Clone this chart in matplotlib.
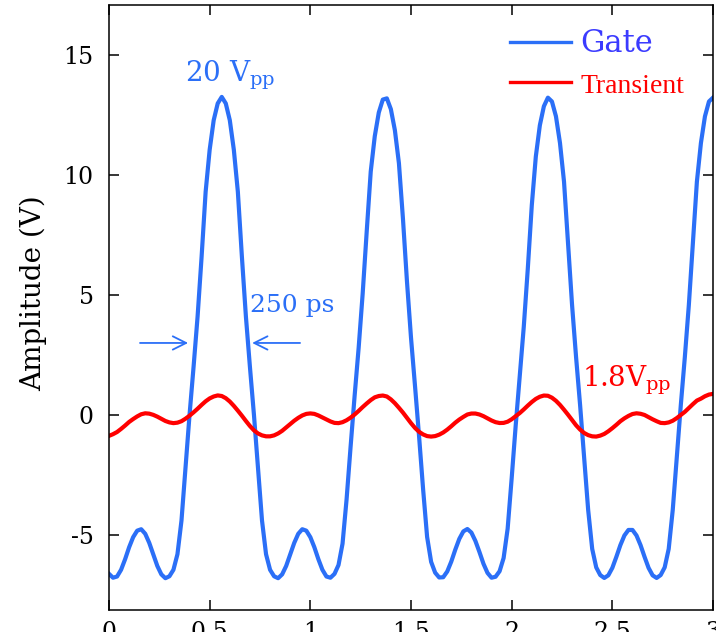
import matplotlib
matplotlib.use('Agg')
import matplotlib.pyplot as plt
from matplotlib.ticker import FixedLocator, FixedFormatter

# ---- data ----
time_ns = [
    0.00, 0.02, 0.04, 0.06, 0.08, 0.10, 0.12, 0.14, 0.16, 0.18,
    0.20, 0.22, 0.24, 0.26, 0.28, 0.30, 0.32, 0.34, 0.36, 0.38,
    0.40, 0.42, 0.44, 0.46, 0.48, 0.50, 0.52, 0.54, 0.56, 0.58,
    0.60, 0.62, 0.64, 0.66, 0.68, 0.70, 0.72, 0.74, 0.76, 0.78,
    0.80, 0.82, 0.84, 0.86, 0.88, 0.90, 0.92, 0.94, 0.96, 0.98,
    1.00, 1.02, 1.04, 1.06, 1.08, 1.10, 1.12, 1.14, 1.16, 1.18,
    1.20, 1.22, 1.24, 1.26, 1.28, 1.30, 1.32, 1.34, 1.36, 1.38,
    1.40, 1.42, 1.44, 1.46, 1.48, 1.50, 1.52, 1.54, 1.56, 1.58,
    1.60, 1.62, 1.64, 1.66, 1.68, 1.70, 1.72, 1.74, 1.76, 1.78,
    1.80, 1.82, 1.84, 1.86, 1.88, 1.90, 1.92, 1.94, 1.96, 1.98,
    2.00, 2.02, 2.04, 2.06, 2.08, 2.10, 2.12, 2.14, 2.16, 2.18,
    2.20, 2.22, 2.24, 2.26, 2.28, 2.30, 2.32, 2.34, 2.36, 2.38,
    2.40, 2.42, 2.44, 2.46, 2.48, 2.50, 2.52, 2.54, 2.56, 2.58,
    2.60, 2.62, 2.64, 2.66, 2.68, 2.70, 2.72, 2.74, 2.76, 2.78,
    2.80, 2.82, 2.84, 2.86, 2.88, 2.90, 2.92, 2.94, 2.96, 2.98,
    3.00,
]

gate_v = [
    -6.62, -6.78, -6.73, -6.45, -6.01, -5.51, -5.09, -4.82, -4.76, -4.95,
    -5.33, -5.81, -6.29, -6.64, -6.80, -6.72, -6.45, -5.80, -4.40, -2.20,
    0.00, 2.00, 4.10, 6.60, 9.30, 11.05, 12.28, 12.98, 13.25, 12.98,
    12.28, 11.05, 9.30, 6.60, 4.10, 2.00, 0.00, -2.20, -4.40, -5.80,
    -6.45, -6.72, -6.80, -6.64, -6.29, -5.81, -5.33, -4.95, -4.76, -4.82,
    -5.09, -5.51, -6.01, -6.45, -6.73, -6.78, -6.62, -6.25, -5.36, -3.52,
    -1.32, 0.80, 2.80, 5.06, 7.64, 10.14, 11.61, 12.60, 13.14, 13.19,
    12.74, 11.86, 10.49, 8.18, 5.56, 3.22, 1.20, -0.88, -3.08, -5.08,
    -6.12, -6.57, -6.77, -6.76, -6.52, -6.11, -5.61, -5.16, -4.85, -4.75,
    -4.90, -5.25, -5.71, -6.20, -6.58, -6.78, -6.74, -6.51, -5.96, -4.74,
    -2.64, -0.44, 1.60, 3.66, 6.08, 8.74, 10.77, 12.07, 12.86, 13.22,
    13.06, 12.44, 11.33, 9.72, 7.12, 4.58, 2.40, 0.40, -1.76, -3.96,
    -5.58, -6.35, -6.67, -6.79, -6.68, -6.37, -5.91, -5.42, -5.02, -4.79,
    -4.79, -5.02, -5.42, -5.91, -6.37, -6.68, -6.79, -6.67, -6.35, -5.58,
    -3.96, -1.76, 0.40, 2.40, 4.58, 7.12, 9.72, 11.33, 12.44, 13.06,
    13.22,
]

transient_v = [
    -0.87, -0.80, -0.71, -0.58, -0.44, -0.29, -0.17, -0.06, 0.03, 0.07,
    0.055, 0.005, -0.07, -0.16, -0.25, -0.31, -0.34, -0.32, -0.26, -0.155,
    -0.03, 0.11, 0.26, 0.42, 0.57, 0.69, 0.77, 0.815, 0.79, 0.70,
    0.56, 0.38, 0.18, -0.03, -0.25, -0.46, -0.64, -0.77, -0.85, -0.89,
    -0.89, -0.85, -0.77, -0.66, -0.52, -0.38, -0.24, -0.12, -0.02, 0.045,
    0.065, 0.045, -0.02, -0.105, -0.19, -0.27, -0.33, -0.34, -0.30, -0.22,
    -0.11, 0.02, 0.17, 0.33, 0.48, 0.62, 0.735, 0.79, 0.81, 0.77,
    0.65, 0.49, 0.30, 0.10, -0.12, -0.34, -0.54, -0.70, -0.81, -0.88,
    -0.90, -0.88, -0.82, -0.73, -0.61, -0.47, -0.32, -0.19, -0.08, 0.02,
    0.06, 0.06, 0.02, -0.05, -0.14, -0.23, -0.30, -0.335, -0.33, -0.28,
    -0.18, -0.05, 0.08, 0.23, 0.39, 0.54, 0.67, 0.76, 0.81, 0.80,
    0.72, 0.59, 0.42, 0.22, 0.01, -0.21, -0.43, -0.61, -0.75, -0.84,
    -0.89, -0.90, -0.86, -0.79, -0.68, -0.55, -0.41, -0.26, -0.14, -0.04,
    0.04, 0.07, 0.05, 0.00, -0.09, -0.18, -0.26, -0.33, -0.34, -0.31,
    -0.24, -0.13, 0.00, 0.13, 0.29, 0.45, 0.60, 0.68, 0.78, 0.85,
    0.88,
]

series_labels = ['Gate', 'Transient']
x_ticks = [0, 0.5, 1, 1.5, 2, 2.5, 3]
x_tick_labels = ['0', '0.5', '1', '1.5', '2', '2.5', '3']
y_ticks = [-5, 0, 5, 10, 15]
y_tick_labels = ['-5', '0', '5', '10', '15']
y_label = 'Amplitude (V)'
gate_note = r'20 V$_{\mathrm{pp}}$'
width_note = '250 ps'
transient_note = r'1.8V$_{\mathrm{pp}}$'

# ---- style ----
BLUE = '#2b6ff7'
RED = '#ff0000'
LEG_BLUE = '#3b3bff'

plt.rcParams['font.family'] = ['DejaVu Serif']
plt.rcParams['mathtext.fontset'] = 'dejavuserif'
plt.rcParams['axes.unicode_minus'] = False

fig = plt.figure(figsize=(7.16, 6.32), dpi=100)
ax = fig.add_axes([109 / 716, 1 - 610 / 632, (713 - 109) / 716, (610 - 5) / 632])

ax.plot(time_ns, gate_v, color=BLUE, lw=3.0, label=series_labels[0],
        solid_joinstyle='round')
ax.plot(time_ns, transient_v, color=RED, lw=3.0, label=series_labels[1],
        solid_joinstyle='round')

ax.set_xlim(0, 3)
ax.set_ylim(-8.125, 17.08)

ax.xaxis.set_major_locator(FixedLocator(x_ticks))
ax.xaxis.set_major_formatter(FixedFormatter(x_tick_labels))
ax.yaxis.set_major_locator(FixedLocator(y_ticks))
ax.yaxis.set_major_formatter(FixedFormatter(y_tick_labels))

ax.tick_params(axis='both', which='major', direction='in', length=7,
               width=1.1, top=True, right=True, labelsize=17, colors='black')
ax.tick_params(axis='y', pad=11)
ax.tick_params(axis='x', pad=8)
for s in ax.spines.values():
    s.set_linewidth(1.1)

ax.set_ylabel(y_label, fontsize=20)
ax.yaxis.set_label_coords(-0.103, 0.524)

# legend
leg = ax.legend(loc='upper left', bbox_to_anchor=(0.664, 0.962), frameon=False,
                borderpad=0, borderaxespad=0, handlelength=2.1,
                handletextpad=0.3, labelspacing=0.45, fontsize=21)
for line in leg.get_lines():
    line.set_linewidth(2.4)
texts = leg.get_texts()
texts[0].set_color(LEG_BLUE)
texts[0].set_fontsize(22)
texts[1].set_color(RED)
texts[1].set_fontfamily(['Liberation Serif'])
texts[1].set_fontsize(20)

# annotations
ax.text(0.378, 13.9, gate_note, color=BLUE, fontsize=20, ha='left', va='baseline')
ax.text(0.70, 4.3, width_note, color=BLUE, fontsize=18, ha='left', va='baseline')
ax.text(2.351, 1.17, transient_note, color=RED, fontsize=20, ha='left', va='baseline')

ax.annotate('', xy=(0.393, 3.0), xytext=(0.154, 3.0),
            arrowprops=dict(arrowstyle='->', color=BLUE, lw=1.3,
                            mutation_scale=24, shrinkA=0, shrinkB=0))
ax.annotate('', xy=(0.711, 3.0), xytext=(0.949, 3.0),
            arrowprops=dict(arrowstyle='->', color=BLUE, lw=1.3,
                            mutation_scale=24, shrinkA=0, shrinkB=0))

fig.savefig('out.png', dpi=100)
